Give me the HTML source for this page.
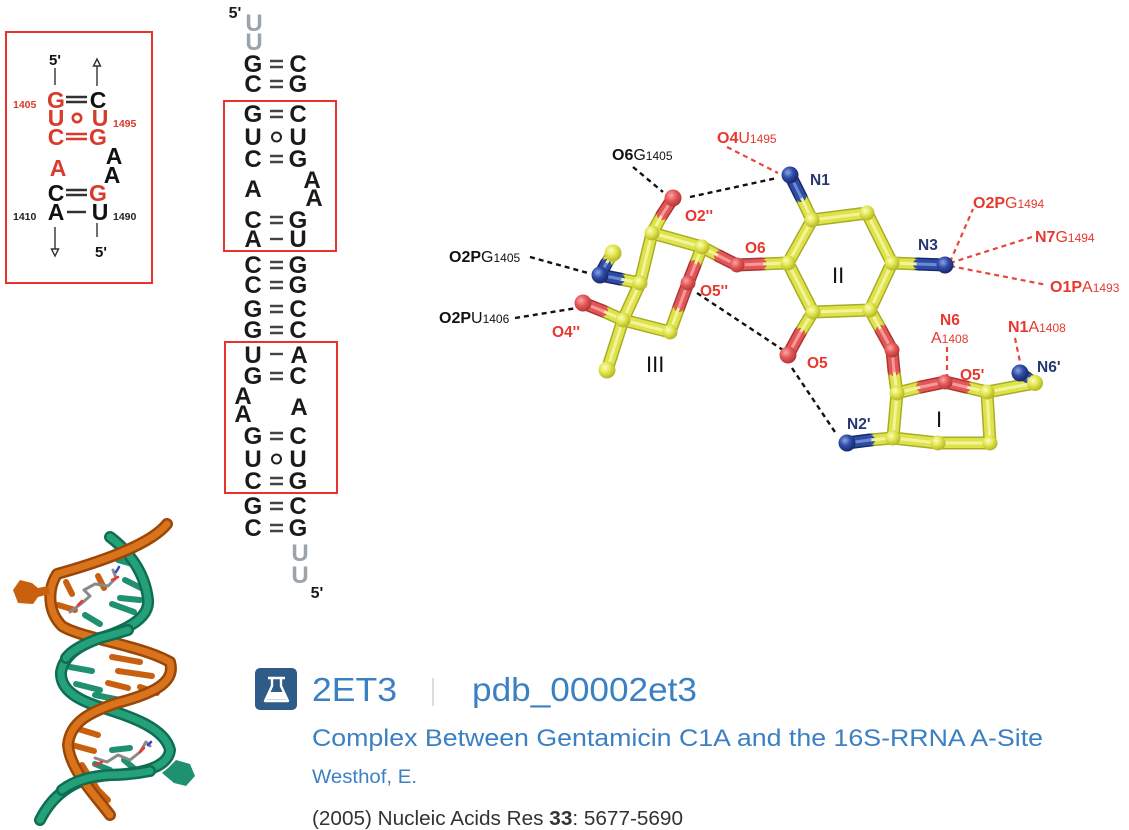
<!DOCTYPE html>
<html><head><meta charset="utf-8"><style>
html,body{margin:0;padding:0;background:#fff;}
svg{display:block;}
text{font-family:"Liberation Sans",Arial,sans-serif;}
</style></head><body>
<svg width="1129" height="830" viewBox="0 0 1129 830" xmlns="http://www.w3.org/2000/svg">
<defs>
<radialGradient id="gy" cx="38%" cy="35%" r="65%"><stop offset="0" stop-color="#fbfcc6"/><stop offset="0.5" stop-color="#e2e64b"/><stop offset="1" stop-color="#b4b72a"/></radialGradient>
<radialGradient id="gr" cx="38%" cy="35%" r="65%"><stop offset="0" stop-color="#f8a8a8"/><stop offset="0.5" stop-color="#e65858"/><stop offset="1" stop-color="#b33838"/></radialGradient>
<radialGradient id="gb" cx="38%" cy="35%" r="65%"><stop offset="0" stop-color="#8ea3e2"/><stop offset="0.5" stop-color="#2d4ca8"/><stop offset="1" stop-color="#18296a"/></radialGradient>
<g id="bY">
<line x1="652" y1="233" x2="702" y2="247"/>
<line x1="670" y1="332" x2="623" y2="320"/>
<line x1="623" y1="320" x2="640" y2="283"/>
<line x1="640" y1="283" x2="652" y2="233"/>
<line x1="623" y1="320" x2="607" y2="370"/>
<line x1="702" y1="247" x2="695" y2="265"/>
<line x1="679" y1="307" x2="670" y2="332"/>
<line x1="652" y1="233" x2="662" y2="215"/>
<line x1="640" y1="283" x2="620" y2="279"/>
<line x1="606" y1="264" x2="613" y2="253"/>
<line x1="623" y1="320" x2="603" y2="311"/>
<line x1="702" y1="247" x2="719" y2="256"/>
<line x1="762" y1="264" x2="788" y2="263"/>
<line x1="812" y1="220" x2="867" y2="213"/>
<line x1="867" y1="213" x2="892" y2="263"/>
<line x1="892" y1="263" x2="870" y2="310"/>
<line x1="870" y1="310" x2="813" y2="312"/>
<line x1="813" y1="312" x2="788" y2="263"/>
<line x1="788" y1="263" x2="812" y2="220"/>
<line x1="812" y1="220" x2="801" y2="197"/>
<line x1="892" y1="263" x2="918" y2="264"/>
<line x1="813" y1="312" x2="800" y2="333"/>
<line x1="870" y1="310" x2="881" y2="330"/>
<line x1="894" y1="371" x2="897" y2="393"/>
<line x1="897" y1="393" x2="921" y2="387"/>
<line x1="966" y1="387" x2="987" y2="392"/>
<line x1="987" y1="392" x2="990" y2="443"/>
<line x1="990" y1="443" x2="938" y2="443"/>
<line x1="938" y1="443" x2="893" y2="438"/>
<line x1="893" y1="438" x2="897" y2="393"/>
<line x1="893" y1="438" x2="870" y2="440"/>
<line x1="987" y1="392" x2="1035" y2="383"/>
<line x1="1035" y1="383" x2="1027" y2="378"/>
</g>
<g id="bR">
<line x1="695" y1="265" x2="688" y2="283"/>
<line x1="688" y1="283" x2="679" y2="307"/>
<line x1="662" y1="215" x2="673" y2="198"/>
<line x1="603" y1="311" x2="583" y2="303"/>
<line x1="719" y1="256" x2="737" y2="265"/>
<line x1="737" y1="265" x2="762" y2="264"/>
<line x1="800" y1="333" x2="788" y2="355"/>
<line x1="881" y1="330" x2="892" y2="350"/>
<line x1="892" y1="350" x2="894" y2="371"/>
<line x1="921" y1="387" x2="945" y2="382"/>
<line x1="945" y1="382" x2="966" y2="387"/>
</g>
<g id="bB">
<line x1="620" y1="279" x2="600" y2="275"/>
<line x1="600" y1="275" x2="606" y2="264"/>
<line x1="801" y1="197" x2="790" y2="175"/>
<line x1="918" y1="264" x2="945" y2="265"/>
<line x1="870" y1="440" x2="847" y2="443"/>
<line x1="1027" y1="378" x2="1020" y2="373"/>
</g>
<path id="gPath" d="M110 537 C125 548 145 570 148 600 C150 620 120 632 100 638 C80 645 64 655 61 672 C60 690 78 700 100 707 C130 716 165 728 170 750 C168 768 140 774 110 775 C80 777 55 790 40 820"/>
<path id="oPath" d="M167 524 C150 545 100 562 57 574 C47 590 48 612 62 626 C80 638 140 645 170 662 C175 680 160 692 117 703 C90 712 70 722 68 745 C70 770 95 795 110 815"/>
<path id="gFront1" d="M128 630 C115 634 104 637 100 638 C84 644 72 650 66 658"/>
<path id="gFront2" d="M150 771 C135 774 122 775 110 775 C90 776 74 781 62 790"/>
</defs>
<rect width="1129" height="830" fill="#fff"/>

<!-- LEFT BOX -->
<rect x="6" y="32" width="146" height="251" fill="none" stroke="#e8322c" stroke-width="2"/>
<g font-weight="bold" font-size="23" text-anchor="middle">
<text x="55" y="65" font-size="15" fill="#111">5'</text>
<text x="56" y="108" fill="#d93a2c">G</text><text x="98" y="108" fill="#111">C</text>
<text x="56" y="126" fill="#d93a2c">U</text><text x="100" y="126" fill="#d93a2c">U</text>
<text x="56" y="145" fill="#d93a2c">C</text><text x="98" y="145" fill="#d93a2c">G</text>
<text x="58" y="176" fill="#d93a2c">A</text>
<text x="114" y="164" fill="#111">A</text>
<text x="112" y="183" fill="#111">A</text>
<text x="56" y="201" fill="#111">C</text><text x="98" y="201" fill="#d93a2c">G</text>
<text x="56" y="220" fill="#111">A</text><text x="100" y="220" fill="#111">U</text>
<text x="101" y="257" font-size="15" fill="#111">5'</text>
</g>
<g font-weight="bold" font-size="10.5">
<text x="13" y="108" fill="#d93a2c">1405</text>
<text x="113" y="127" fill="#d93a2c">1495</text>
<text x="13" y="220" fill="#222">1410</text>
<text x="113" y="220" fill="#222">1490</text>
</g>
<g stroke-width="2.6" fill="none">
<line x1="66" y1="97" x2="87" y2="97" stroke="#333"/><line x1="66" y1="102" x2="87" y2="102" stroke="#333"/>
<circle cx="77" cy="118" r="4.2" stroke="#d93a2c" stroke-width="2.6"/>
<line x1="66" y1="134" x2="87" y2="134" stroke="#d93a2c"/><line x1="66" y1="139" x2="87" y2="139" stroke="#d93a2c"/>
<line x1="66" y1="190" x2="87" y2="190" stroke="#333"/><line x1="66" y1="195" x2="87" y2="195" stroke="#333"/>
<line x1="67" y1="212" x2="86" y2="212" stroke="#333"/>
</g>
<g stroke="#333" stroke-width="1.4" fill="#fff">
<line x1="55" y1="68" x2="55" y2="85"/>
<line x1="97" y1="66" x2="97" y2="86"/>
<polygon points="97,59 93.5,66 100.5,66"/>
<line x1="55" y1="227" x2="55" y2="249"/>
<polygon points="55,256 51.5,249 58.5,249"/>
<line x1="97" y1="223" x2="97" y2="237"/>
</g>

<!-- MIDDLE COLUMN -->
<rect x="224" y="101" width="112" height="150" fill="none" stroke="#e8322c" stroke-width="2"/>
<rect x="225" y="342" width="112" height="151" fill="none" stroke="#e8322c" stroke-width="2"/>
<g font-weight="bold" font-size="24" text-anchor="middle" fill="#1a1a1a">
<text x="235" y="18" font-size="16">5'</text>
<text x="254" y="31" fill="#9ba3ab">U</text><text x="254" y="50" fill="#9ba3ab">U</text>
<text x="253" y="72">G</text><text x="298" y="72">C</text>
<text x="253" y="92">C</text><text x="298" y="92">G</text>
<text x="253" y="122">G</text><text x="298" y="122">C</text>
<text x="253" y="145">U</text><text x="298" y="145">U</text>
<text x="253" y="167">C</text><text x="298" y="167">G</text>
<text x="253" y="197">A</text>
<text x="312" y="188">A</text><text x="314" y="206">A</text>
<text x="253" y="228">C</text><text x="298" y="228">G</text>
<text x="253" y="247">A</text><text x="298" y="247">U</text>
<text x="253" y="273">C</text><text x="298" y="273">G</text>
<text x="253" y="293">C</text><text x="298" y="293">G</text>
<text x="253" y="317">G</text><text x="298" y="317">C</text>
<text x="253" y="338">G</text><text x="298" y="338">C</text>
<text x="253" y="363">U</text><text x="299" y="363">A</text>
<text x="253" y="384">G</text><text x="298" y="384">C</text>
<text x="243" y="404">A</text><text x="243" y="422">A</text>
<text x="299" y="415">A</text>
<text x="253" y="444">G</text><text x="298" y="444">C</text>
<text x="253" y="467">U</text><text x="298" y="467">U</text>
<text x="253" y="489">C</text><text x="298" y="489">G</text>
<text x="253" y="514">G</text><text x="298" y="514">C</text>
<text x="253" y="536">C</text><text x="298" y="536">G</text>
<text x="300" y="561" fill="#9ba3ab">U</text><text x="300" y="583" fill="#9ba3ab">U</text>
<text x="317" y="598" font-size="16">5'</text>
</g>
<g stroke="#444" stroke-width="2.4" fill="none">
<path d="M270 61H283M270 67H283"/>
<path d="M270 81H283M270 87H283"/>
<path d="M270 111H283M270 117H283"/>
<circle cx="276.5" cy="137" r="4.5" stroke="#222" stroke-width="2"/>
<path d="M270 156H283M270 162H283"/>
<path d="M270 217H283M270 223H283"/>
<path d="M270 239H283"/>
<path d="M270 262H283M270 268H283"/>
<path d="M270 282H283M270 288H283"/>
<path d="M270 306H283M270 312H283"/>
<path d="M270 327H283M270 333H283"/>
<path d="M270 354H283"/>
<path d="M270 373H283M270 379H283"/>
<path d="M270 433H283M270 439H283"/>
<circle cx="276.5" cy="459" r="4.5" stroke="#222" stroke-width="2"/>
<path d="M270 478H283M270 484H283"/>
<path d="M270 503H283M270 509H283"/>
<path d="M270 525H283M270 531H283"/>
</g>

<!-- DASHED H-BONDS -->
<g stroke="#111" stroke-width="2.4" stroke-dasharray="5 4" fill="none">
<line x1="633" y1="167" x2="663" y2="192"/>
<line x1="690" y1="197" x2="777" y2="178"/>
<line x1="530" y1="257" x2="588" y2="273"/>
<line x1="515" y1="318" x2="577" y2="308"/>
<line x1="697" y1="293" x2="783" y2="350"/>
<line x1="792" y1="368" x2="837" y2="435"/>
</g>
<g stroke="#e8453c" stroke-width="2.2" stroke-dasharray="5 4" fill="none">
<line x1="727" y1="147" x2="778" y2="173"/>
<line x1="950" y1="262" x2="973" y2="209"/>
<line x1="950" y1="263" x2="1032" y2="237"/>
<line x1="950" y1="266" x2="1047" y2="285"/>
<line x1="947" y1="347" x2="947" y2="378"/>
<line x1="1015" y1="338" x2="1020" y2="362"/>
</g>

<!-- MOLECULE STICKS -->
<g stroke-linecap="round">
<use href="#bY" stroke="#a9ac24" stroke-width="13"/>
<use href="#bR" stroke="#a93535" stroke-width="13"/>
<use href="#bB" stroke="#17296a" stroke-width="13"/>
<use href="#bY" stroke="#dfe34a" stroke-width="10"/>
<use href="#bR" stroke="#e45656" stroke-width="10"/>
<use href="#bB" stroke="#2d4ca8" stroke-width="10"/>
<use href="#bY" stroke="#f1f49c" stroke-width="3"/>
<use href="#bR" stroke="#f49a9a" stroke-width="3"/>
<use href="#bB" stroke="#6f88d0" stroke-width="3"/>
</g>
<!-- BALLS -->
<g>
<circle cx="652" cy="233" r="7.5" fill="url(#gy)"/>
<circle cx="702" cy="247" r="7.5" fill="url(#gy)"/>
<circle cx="670" cy="332" r="7.5" fill="url(#gy)"/>
<circle cx="623" cy="320" r="7.5" fill="url(#gy)"/>
<circle cx="640" cy="283" r="7.5" fill="url(#gy)"/>
<circle cx="688" cy="283" r="7.5" fill="url(#gr)"/>
<circle cx="673" cy="198" r="8.5" fill="url(#gr)"/>
<circle cx="613" cy="253" r="8.5" fill="url(#gy)"/>
<circle cx="600" cy="275" r="8.5" fill="url(#gb)"/>
<circle cx="583" cy="303" r="8.5" fill="url(#gr)"/>
<circle cx="607" cy="370" r="8.5" fill="url(#gy)"/>
<circle cx="737" cy="265" r="7.5" fill="url(#gr)"/>
<circle cx="812" cy="220" r="7.5" fill="url(#gy)"/>
<circle cx="867" cy="213" r="7.5" fill="url(#gy)"/>
<circle cx="892" cy="263" r="7.5" fill="url(#gy)"/>
<circle cx="870" cy="310" r="7.5" fill="url(#gy)"/>
<circle cx="813" cy="312" r="7.5" fill="url(#gy)"/>
<circle cx="788" cy="263" r="7.5" fill="url(#gy)"/>
<circle cx="790" cy="175" r="8.5" fill="url(#gb)"/>
<circle cx="945" cy="265" r="8.5" fill="url(#gb)"/>
<circle cx="788" cy="355" r="8.5" fill="url(#gr)"/>
<circle cx="892" cy="350" r="7.5" fill="url(#gr)"/>
<circle cx="897" cy="393" r="7.5" fill="url(#gy)"/>
<circle cx="945" cy="382" r="7.5" fill="url(#gr)"/>
<circle cx="987" cy="392" r="7.5" fill="url(#gy)"/>
<circle cx="990" cy="443" r="7.5" fill="url(#gy)"/>
<circle cx="938" cy="443" r="7.5" fill="url(#gy)"/>
<circle cx="893" cy="438" r="7.5" fill="url(#gy)"/>
<circle cx="847" cy="443" r="8.5" fill="url(#gb)"/>
<circle cx="1035" cy="383" r="8" fill="url(#gy)"/>
<circle cx="1020" cy="373" r="8.5" fill="url(#gb)"/>
</g>

<!-- MOLECULE LABELS -->
<g font-size="16">
<text x="612" y="160" fill="#111"><tspan font-weight="bold">O6</tspan>G<tspan font-size="12">1405</tspan></text>
<text x="717" y="143" fill="#e8382e"><tspan font-weight="bold">O4</tspan>U<tspan font-size="12">1495</tspan></text>
<text x="449" y="262" fill="#111"><tspan font-weight="bold">O2P</tspan>G<tspan font-size="12">1405</tspan></text>
<text x="439" y="323" fill="#111"><tspan font-weight="bold">O2P</tspan>U<tspan font-size="12">1406</tspan></text>
<text x="973" y="208" fill="#e8382e"><tspan font-weight="bold">O2P</tspan>G<tspan font-size="12">1494</tspan></text>
<text x="1035" y="242" fill="#e8382e"><tspan font-weight="bold">N7</tspan>G<tspan font-size="12">1494</tspan></text>
<text x="1050" y="292" fill="#e8382e"><tspan font-weight="bold">O1P</tspan>A<tspan font-size="12">1493</tspan></text>
<text x="1008" y="332" fill="#e8382e"><tspan font-weight="bold">N1</tspan>A<tspan font-size="12">1408</tspan></text>
<text x="931" y="343" fill="#e8382e">A<tspan font-size="12">1408</tspan></text>
</g>
<g font-size="15.5" font-weight="bold">
<text x="940" y="325" fill="#e8382e">N6</text>
<text x="685" y="221" fill="#e8382e">O2''</text>
<text x="745" y="253" fill="#e8382e">O6</text>
<text x="700" y="296" fill="#e8382e">O5''</text>
<text x="552" y="337" fill="#e8382e">O4''</text>
<text x="807" y="368" fill="#e8382e">O5</text>
<text x="960" y="380" fill="#e8382e">O5'</text>
<text x="810" y="185" fill="#27366f">N1</text>
<text x="918" y="250" fill="#27366f">N3</text>
<text x="1037" y="372" fill="#27366f">N6'</text>
<text x="847" y="429" fill="#27366f">N2'</text>
</g>
<g font-size="22" fill="#111">
<text x="646" y="372">III</text>
<text x="832" y="283">II</text>
<text x="936" y="427">I</text>
</g>

<!-- HELIX -->
<g fill="none" stroke-linecap="round" stroke-linejoin="round">
<!-- green bases (behind) -->
<g stroke="#1f9070" stroke-width="6">
<path d="M115 545 L128 548 M118 560 L140 566 M125 580 L145 590 M112 604 L134 612 M85 615 L100 624 M120 598 L140 600"/>
<path d="M70 667 L92 671 M76 684 L100 690 M95 695 L120 700 M100 710 L122 714"/>
<path d="M95 764 L110 770 M124 760 L136 770 M112 750 L130 748"/>
</g>
<!-- green ribbon -->
<use href="#gPath" stroke="#0f6e50" stroke-width="12"/>
<use href="#gPath" stroke="#24a07b" stroke-width="7"/>
<!-- orange bases -->
<g stroke="#c8600f" stroke-width="6">
<path d="M66 582 L72 594 M98 576 L104 588 M58 605 L75 610"/>
<path d="M112 657 L140 662 M118 671 L152 676 M140 687 L157 693 M108 683 L128 688"/>
<path d="M75 728 L98 735 M72 745 L94 751 M82 765 L98 790 M98 790 L108 800"/>
</g>
<!-- orange ribbon -->
<use href="#oPath" stroke="#9a4606" stroke-width="12"/>
<use href="#oPath" stroke="#d9741c" stroke-width="7"/>
<!-- green crossings in front -->
<use href="#gFront1" stroke="#0f6e50" stroke-width="12"/>
<use href="#gFront1" stroke="#24a07b" stroke-width="7"/>
<use href="#gFront2" stroke="#0f6e50" stroke-width="12"/>
<use href="#gFront2" stroke="#24a07b" stroke-width="7"/>
<!-- ligands -->
<path d="M70 612 L82 603 L90 596 L84 590 L95 584 L108 586 L116 578 L113 570" stroke="#8a8a8a" stroke-width="3"/>
<path d="M95 758 L107 762 L118 755 L130 760 L140 752 L146 742 L150 746" stroke="#8a8a8a" stroke-width="3"/>
<path d="M112 580 L118 577 M78 605 L82 601 M95 765 L102 762 M140 752 L144 748" stroke="#e33" stroke-width="2.5"/>
<path d="M116 572 L119 567 M148 745 L151 742" stroke="#3344cc" stroke-width="2.5"/>
</g>
<g>
<path d="M13 590 L20 580 L32 583 L38 588 L48 586 L50 594 L38 597 L33 604 L18 603 Z" fill="#c8600f"/>
<path d="M168 768 L176 760 L190 764 L195 776 L186 786 L174 783 L162 773 Z" fill="#1f9070"/>
</g>

<!-- BOTTOM TEXT -->
<rect x="255" y="668" width="42" height="42" rx="5" fill="#2e5b88"/>
<g stroke="#fff" stroke-width="2.4" fill="none" stroke-linejoin="round">
<path d="M268 678 H285"/>
<path d="M272 678 V686 L265 701 H288 L281 686 V678"/>
</g>
<path d="M268.5 692 L266.5 699.5 H286.5 L284.5 692 Z" fill="#fff"/>
<text x="312" y="701" font-size="33" fill="#3b80c2" textLength="85" lengthAdjust="spacingAndGlyphs">2ET3</text>
<line x1="433" y1="678" x2="433" y2="706" stroke="#d0d4d8" stroke-width="1.5"/>
<text x="472" y="701" font-size="33" fill="#3b80c2" textLength="225" lengthAdjust="spacingAndGlyphs">pdb_00002et3</text>
<text x="312" y="746" font-size="24" fill="#3b80c2" textLength="731" lengthAdjust="spacingAndGlyphs">Complex Between Gentamicin C1A and the 16S-RRNA A-Site</text>
<text x="312" y="783" font-size="19" fill="#3b80c2" textLength="105" lengthAdjust="spacingAndGlyphs">Westhof, E.</text>
<text x="312" y="825" font-size="20" fill="#333" textLength="371" lengthAdjust="spacingAndGlyphs">(2005) Nucleic Acids Res <tspan font-weight="bold">33</tspan>: 5677-5690</text>
</svg>
</body></html>
